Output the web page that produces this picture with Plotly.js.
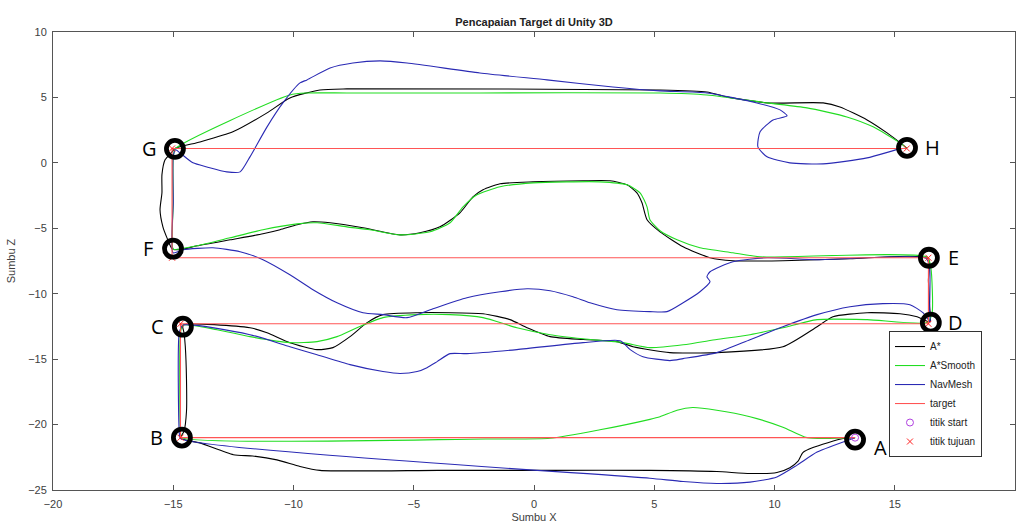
<!DOCTYPE html>
<html><head><meta charset="utf-8">
<script src="https://cdn.plot.ly/plotly-3.0.1.min.js"></script>
<style>html,body{margin:0;padding:0;background:#fff}#chart{width:1020px;height:526px}</style>
</head><body><div id="chart"></div>
<script>
// A* path (black)
const astarX = [13.35,12.85,11.6,11.18,10.98,10.64,10.1,8.98,7.6,4.82,0.67,-4,-8.9,-9.73,-10.69,-11.7,-12.5,-13.9,-14.7,
  -14.55,-14.45,-14.45,-14.5,-14.55,-14.6,
  -11.81,-11.1,-10.15,-9.02,-8.36,-7.65,-6.94,-6.28,-4.86,-2.12,-1.0,-0.29,0.67,2.04,3.45,4.12,5.65,7.6,10.35,11.77,12.43,13.85,15.22,15.93,16.47,
  16.45,16.4,16.38,
  13.14,10.35,8.27,7.32,6.2,5.24,4.7,4.49,4.28,3.87,3.16,2.04,-0.04,-1.41,-2.12,-2.54,-3.08,-3.91,-4.74,-5.57,-7.11,-8.48,-9.19,-9.85,-10.56,-11.27,-12.64,-14.01,-14.72,-15.05,
  -15.26,-15.43,-15.55,-15.47,-15.47,-15.34,-15.05,-14.93,
  -13.89,-12.52,-11.1,-10.15,-8.9,-7.78,5.24,7.19,8.02,9.69,12.02,12.72,13.85,14.68,15.34,15.5];
const astarY = [-21.0,-21.07,-21.76,-22.14,-22.8,-23.3,-23.66,-23.74,-23.59,-23.5,-23.5,-23.5,-23.5,-23.2,-22.7,-22.4,-22.3,-21.4,-21.05,
  -20.5,-19.0,-16.5,-14.0,-13.0,-12.4,
  -12.6,-12.98,-13.74,-14.27,-14.12,-13.28,-12.21,-11.6,-11.45,-11.53,-11.98,-12.6,-13.28,-13.5,-13.66,-14.05,-14.5,-14.5,-14.05,-12.52,-11.76,-11.45,-11.53,-11.76,-12.14,
  -11.0,-9.0,-7.3,
  -7.33,-7.48,-7.48,-7.25,-6.41,-5.27,-4.35,-3.05,-2.29,-1.68,-1.37,-1.37,-1.45,-1.6,-2.06,-2.6,-3.82,-4.89,-5.34,-5.5,-4.96,-4.58,-4.5,-4.73,-5.11,-5.42,-5.88,-6.34,-6.64,-6.56,
  -5.73,-4.89,-3.59,-2.29,-0.9,0.23,0.84,1.1,
  1.6,2.37,3.82,4.96,5.57,5.65,5.57,5.42,5.04,4.58,4.58,4.27,3.28,2.29,1.37,1.12];

// A*Smooth path (green)
const smoothX = [13.35,11.35,10.35,8.98,7.6,6.6,5.95,5.24,4.82,2.74,0.67,-2,-14.65,
  -14.7,-14.7,-14.6,
  -13.18,-11.81,-10.15,-9.02,-8.19,-7.36,-6.28,-4.86,-3.49,-2.12,-0.71,0.67,2.04,3.7,4.82,6.2,7.6,8.98,10.35,11.77,13.85,16.34,
  16.55,16.5,16.35,
  9.4,8.27,6.9,5.95,5.24,4.82,4.7,4.41,3.87,2.74,-0.04,-1.41,-2.37,-2.95,-3.49,-4.32,-5.57,-6.82,-7.78,-9.02,-9.85,-11.27,-12.64,-14.01,-14.72,-15.0,
  -15.0,-15.0,-14.9,
  -10.15,-9.44,-7.78,-2.25,5.24,7.19,9.69,11.35,13.01,14.1,15.22,15.5];
const smoothY = [-21.0,-21.0,-20.2,-19.4,-18.9,-18.7,-18.9,-19.4,-19.6,-20.4,-21.05,-21.1,-21.0,
  -20.5,-13.0,-12.4,
  -12.75,-13.28,-13.74,-13.66,-13.28,-12.6,-11.83,-11.6,-11.6,-11.83,-12.6,-13.13,-13.44,-13.74,-14.12,-13.9,-13.5,-13.13,-12.6,-11.98,-11.98,-12.2,
  -11.5,-8.0,-7.2,
  -7.18,-6.87,-6.49,-5.88,-5.19,-4.35,-3.36,-2.29,-1.68,-1.45,-1.53,-1.83,-2.44,-3.36,-4.58,-5.27,-5.5,-5.11,-4.89,-4.58,-4.66,-5.11,-5.73,-6.34,-6.56,-6.6,
  -3.0,0.5,1.1,
  5.19,5.34,5.34,5.34,5.34,5.19,4.58,4.2,3.51,2.75,1.53,1.12];

// NavMesh path (blue)
const navX = [13.35,11.77,10.94,10.1,8.98,7.6,6.2,4.82,-14.7,
  -14.75,-14.75,-14.6,
  -11.81,-10.15,-9.02,-7.65,-6.28,-5.57,-4.86,-4.45,-4.03,-3.49,-2.79,-0.71,2.04,3.58,4.0,4.53,5.65,6.2,7.6,8.98,10.35,11.77,13.14,14.51,15.63,16.17,16.47,
  16.45,16.45,16.3,
  11.77,9.69,8.27,7.32,7.19,7.32,6.9,6.2,5.53,4.82,3.45,2.33,1.62,0.67,-0.29,-1.41,-2.79,-4.2,-5.28,-6.28,-7.11,-8.19,-9.19,-10.15,-11.27,-12.22,-13.35,-14.59,-15.01,
  -15.0,-15.0,-14.9,
  -14.72,-14.18,-13.6,-12.77,-12.22,-11.81,-11.1,-10.44,-9.73,-9.44,-8.48,-7.53,-6.4,-5.28,-2.25,0.54,3.28,5.24,7.19,9.27,10.23,10.52,9.94,9.4,9.31,9.69,10.64,12.02,13.85,15.22,15.5];
const navY = [-21.0,-22.1,-23.1,-24.0,-24.4,-24.5,-24.35,-24.1,-21.05,
  -20.5,-13.0,-12.4,
  -13.13,-14.05,-14.66,-15.42,-15.95,-16.1,-15.95,-15.65,-15.19,-14.58,-14.58,-14.27,-13.74,-13.59,-14.27,-14.81,-15.11,-14.96,-14.5,-13.51,-12.52,-11.6,-10.99,-10.76,-10.84,-11.45,-12.14,
  -11.5,-8.0,-7.3,
  -7.4,-7.25,-7.56,-8.32,-8.7,-9.08,-9.85,-10.69,-11.37,-11.37,-11.22,-10.69,-10.23,-9.77,-9.62,-9.85,-10.31,-11.15,-11.83,-11.6,-11.45,-10.69,-9.69,-8.55,-7.4,-6.79,-6.49,-6.64,-6.87,
  -3.0,0.5,1.0,
  0.76,0.0,-0.31,-0.69,-0.69,0.46,2.75,4.58,6.11,6.34,7.25,7.63,7.79,7.63,6.87,6.34,5.8,5.5,5.34,4.58,4.05,3.59,3.28,2.37,1.22,0.46,0.0,-0.08,0.38,1.07,1.12];

// Target path (red)
const targetX = [13.35,-14.7,-14.7,16.4,16.4,-15.05,-15.05,15.5];
const targetY = [-21.0,-21.0,-12.3,-12.3,-7.25,-7.25,1.1,1.1];

// start point and goal points
const startX = [13.35];
const startY = [-21.0];
const goalX = [-14.7,-14.7,16.4,16.4,-15.05,-15.05,15.5];
const goalY = [-21.0,-12.3,-12.3,-7.25,-7.25,1.1,1.1];

// labelled waypoints (black rings)
const ringLabels = ['A','B','C','D','E','F','G','H'];
const ringX = [13.35,-14.64,-14.6,16.5,16.42,-15.01,-14.93,15.51];
const ringY = [-21.15,-20.99,-12.52,-12.21,-7.25,-6.56,1.07,1.15];
const labelSide = [1,-1,-1,1,1,-1,-1,1];

const FONT = 'Liberation Sans, Arial, Helvetica, sans-serif';
const lineShape = {shape:'spline', smoothing:0.6, width:1.1};

const traces = [
  {x:astarX, y:astarY, mode:'lines', name:'A*', line:Object.assign({color:'#000000'}, lineShape)},
  {x:smoothX, y:smoothY, mode:'lines', name:'A*Smooth', line:Object.assign({color:'#22dd22'}, lineShape)},
  {x:navX, y:navY, mode:'lines', name:'NavMesh', line:Object.assign({color:'#2a2ab4'}, lineShape)},
  {x:targetX, y:targetY, mode:'lines', name:'target', line:{color:'#ff5555', width:1.1}},
  {x:startX, y:startY, mode:'markers', name:'titik start', marker:{symbol:'circle-open', size:7, color:'#b040e0', line:{width:1}}},
  {x:goalX, y:goalY, mode:'markers', name:'titik tujuan', marker:{symbol:'x-thin-open', size:6, color:'#ff2222', line:{width:1, color:'#ff2222'}}},
  {x:ringX, y:ringY, mode:'markers', showlegend:false, hoverinfo:'skip',
   marker:{symbol:'circle-open', size:17, color:'#000000', line:{width:4.8, color:'#000000'}}}
];

const annotations = ringLabels.map((t,i)=>({
  x: ringX[i], y: ringY[i], xref:'x', yref:'y', text:t, showarrow:false,
  xshift: labelSide[i]*25, yshift: (t==='A') ? -8 : 0,
  font:{family:'Open Sans, Lato, sans-serif', size:20, color:'#000'}
}));

const axisCommon = {
  showgrid:false, zeroline:false, showline:true, linecolor:'#555555', linewidth:1,
  mirror:'ticks', ticks:'inside', ticklen:5, tickcolor:'#555555', tickwidth:1,
  tickfont:{family:FONT, size:11, color:'#404040'}
};

const layout = {
  width:1020, height:526,
  margin:{l:53, r:5, t:32, b:36},
  paper_bgcolor:'#ffffff', plot_bgcolor:'#ffffff',
  title:{text:'<b>Pencapaian Target di Unity 3D</b>', x:0.5, xref:'paper', y:0.965, yref:'container',
         font:{family:FONT, size:11, color:'#222222'}},
  xaxis:Object.assign({}, axisCommon, {range:[-20,20], tickvals:[-20,-15,-10,-5,0,5,10,15,20],
    ticklabelstandoff:4,
    title:{text:'Sumbu X', standoff:4, font:{family:FONT, size:11, color:'#404040'}}}),
  yaxis:Object.assign({}, axisCommon, {range:[-25,10], tickvals:[-25,-20,-15,-10,-5,0,5,10],
    ticklabelstandoff:3,
    title:{text:'Sumbu Z', standoff:10, font:{family:FONT, size:11, color:'#404040'}}}),
  showlegend:true,
  legend:{x:0.869, xanchor:'left', y:0.072, yanchor:'bottom', bgcolor:'#ffffff', bordercolor:'#333333', borderwidth:1,
          font:{family:FONT, size:10, color:'#222222'}, tracegroupgap:0},
  annotations: annotations
};

Plotly.newPlot('chart', traces, layout, {displayModeBar:false, staticPlot:true});
</script></body></html>
